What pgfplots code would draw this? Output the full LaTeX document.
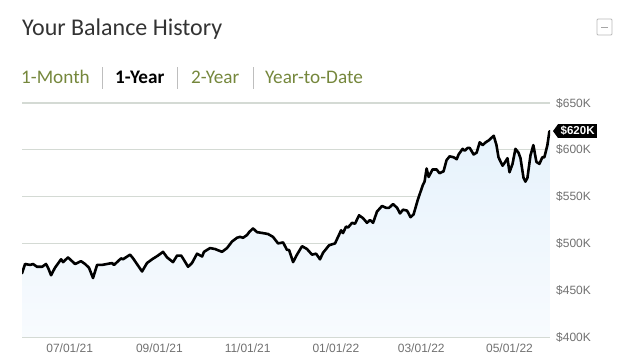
\documentclass[border=0pt]{standalone}
\usepackage{fontspec}
\setmainfont{Carlito}
\newfontfamily\arialf{Liberation Sans}
\usepackage{pgfplots}
\usepackage{pgfplotstable}
\pgfplotsset{compat=1.18}
\definecolor{gridc}{RGB}{212,218,212}
\definecolor{axisc}{RGB}{196,196,206}
\definecolor{tickc}{RGB}{112,112,112}
\definecolor{olivec}{RGB}{117,135,60}
\definecolor{fillc}{RGB}{230,242,252}
\definecolor{fillb}{RGB}{248,251,254}
\definecolor{titlec}{RGB}{51,51,51}
\definecolor{sepc}{RGB}{190,190,190}
% day 0 = 07/01/21, balance in $K
\pgfplotstableread{
day value
-33.0 468
-30.9 478
-27.4 477
-25.4 478
-22.6 475
-19.1 475
-16.4 478
-15.0 474
-12.9 466
-10.2 474
-6.0 483
-4.6 480
-1.2 485
0.9 482
3.7 478
7.8 481
10.6 478
13.3 474
16.1 463
18.9 477
22.3 477
25.8 478
29.2 479
30.6 477
35.5 484
36.8 483
41.7 488
43.8 484
50.0 470
53.4 479
56.9 483
61.0 487
64.5 491
67.3 485
71.4 480
74.2 487
77.0 487
78.3 484
81.8 475
84.5 479
88.0 489
91.5 486
92.8 491
97.0 495
100.4 494
105.3 491
108.7 495
112.2 502
115.6 506
117.7 507
119.8 506
122.6 509
124.0 512
126.7 516
129.5 512
133.6 511
137.1 510
140.5 507
144.0 500
147.5 501
150.2 493
151.6 493
154.4 480
157.1 488
160.6 497
164.0 494
167.5 488
170.3 489
173.0 483
175.1 490
179.3 498
183.4 500
185.5 507
187.6 514
188.9 511
191.0 518
192.4 517
195.2 522
197.2 521
200.0 530
202.7 527
205.5 522
207.6 525
209.7 522
212.4 534
215.9 540
218.7 538
220.7 538
223.5 542
226.3 538
228.3 532
230.4 536
233.2 535
235.6 528
237.7 531
240.5 546
244.0 562
245.3 566
246.7 580
248.1 571
250.8 579
253.6 579
255.6 575
258.4 577
260.5 589
262.6 593
265.4 592
267.5 590
268.8 595
271.6 601
273.0 599
275.1 602
276.5 602
279.2 595
281.3 597
283.4 608
285.5 605
287.5 608
289.6 610
293.1 615
295.0 605
296.4 592
299.2 583
300.6 586
302.6 591
304.0 576
306.1 585
308.1 601
310.2 597
311.6 591
313.7 570
315.0 566
316.4 570
318.5 594
320.5 605
322.6 587
324.7 585
326.7 592
328.1 592
330.2 605
331.5 619
332.0 620
}\balance
\begin{document}
\begin{tikzpicture}[x=1pt,y=1pt]
\useasboundingbox (0,0) rectangle (622,364);
% title
\node[anchor=base west, inner sep=0, text=titlec, font=\fontsize{24}{24}\selectfont] at (22,328) {Your Balance History};
% minimize box
\draw[gray!55, line width=0.8pt, rounded corners=1pt] (597,329) rectangle (612,345);
\draw[gray!70, line width=0.9pt] (601,337) -- (608,337);
% tabs
\begin{scope}[font=\fontsize{19.2}{19.2}\selectfont]
\node[anchor=base west, inner sep=0, text=olivec] at (21,280) {1-Month};
\node[anchor=base west, inner sep=0, text=black] at (115,280) {\bfseries 1-Year};
\node[anchor=base west, inner sep=0, text=olivec] at (191,280) {2-Year};
\node[anchor=base west, inner sep=0, text=olivec] at (265,280) {Year-to-Date};
\end{scope}
\draw[sepc, line width=0.8pt] (102,275) -- (102,297);
\draw[sepc, line width=0.8pt] (177,275) -- (177,297);
\draw[sepc, line width=0.8pt] (253,275) -- (253,297);
\begin{axis}[
  at={(22pt,27pt)}, anchor=south west,
  scale only axis, width=528pt, height=234pt,
  xmin=-33, xmax=332, ymin=400, ymax=650,
  axis x line*=bottom, axis y line*=right,
  y axis line style={draw=none},
  x axis line style={draw=axisc, line width=1pt, -},
  ymajorgrids, grid style={draw=gridc, line width=1.1pt},
  ytick={400,450,500,550,600,650},
  yticklabels={\$400K,\$450K,\$500K,\$550K,\$600K,\$650K},
  ytick style={draw=none},
  yticklabel style={font=\arialf\fontsize{12}{12}\selectfont, text=tickc, anchor=west, inner sep=0pt, xshift=6pt},
  xtick={0,62,123,184,243,304},
  xticklabels={07/01/21,09/01/21,11/01/21,01/01/22,03/01/22,05/01/22},
  xtick style={draw=axisc, line width=0.8pt},
  major tick length=4pt, tick align=inside,
  xticklabel style={font=\arialf\fontsize{12}{12}\selectfont, text=tickc, anchor=north, inner sep=0pt, yshift=-7pt},
  clip mode=individual,
]
\addplot[draw=none, top color=fillc, bottom color=fillb] table[x=day,y=value] {\balance} |- (axis cs:-33,400) -- cycle;
\addplot[black, line width=2.6pt, line join=round, line cap=round] table[x=day,y=value] {\balance};
\node[fill=black, text=white, anchor=west, inner xsep=2.5pt, inner ysep=2pt, font=\arialf\bfseries\fontsize{11.5}{12}\selectfont, xshift=8pt] (lbl) at (axis cs:332,620) {\$620K};
\fill[black] (lbl.north west) -- ([xshift=-5pt]lbl.west) -- (lbl.south west) -- cycle;
\end{axis}
\end{tikzpicture}
\end{document}
